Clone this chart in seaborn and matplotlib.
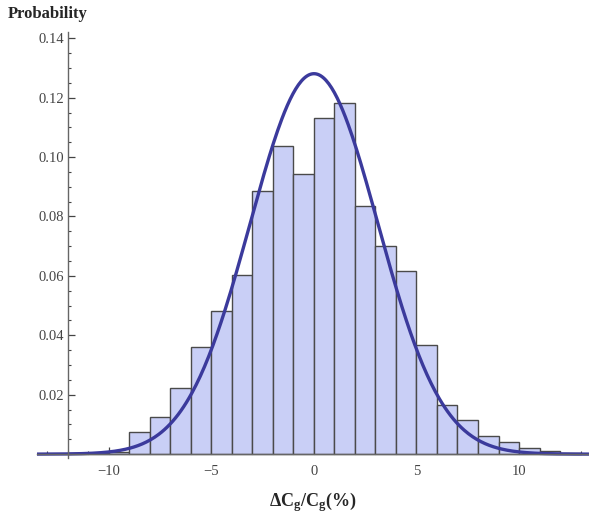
"""
Histogram of the relative capacitance deviation with a fitted normal curve,
drawn in a Mathematica-like style.
"""

import matplotlib
matplotlib.use("Agg")
import matplotlib.pyplot as plt
from matplotlib.ticker import MultipleLocator
import numpy as np
import pandas as pd
import seaborn as sns

# Histogram data: left bin edges (width 1) and probability per bin
bin_left = [-12, -11, -10, -9, -8, -7, -6, -5, -4, -3, -2, -1, 0, 1, 2, 3,
            4, 5, 6, 7, 8, 9, 10, 11, 12]
probability = [0.0003, 0.0005, 0.0008, 0.0073, 0.0126, 0.0221, 0.0361, 0.0481,
               0.0603, 0.0886, 0.1038, 0.0942, 0.1130, 0.1181, 0.0835, 0.0700,
               0.0615, 0.0369, 0.0167, 0.0114, 0.0062, 0.0040, 0.0020, 0.0010,
               0.0003]

# Fitted normal distribution
fit_mean = 0.0
fit_sd = 3.115

y_ticks = [0.02, 0.04, 0.06, 0.08, 0.10, 0.12, 0.14]
x_ticks = [-10, -5, 0, 5, 10]

sns.set_theme(style="white")
plt.rcParams["font.family"] = ["Liberation Serif", "DejaVu Serif"]
plt.rcParams["mathtext.fontset"] = "custom"
plt.rcParams["mathtext.rm"] = "Liberation Serif"
plt.rcParams["mathtext.bf"] = "Liberation Serif:bold"
plt.rcParams["mathtext.it"] = "Liberation Serif:italic"

df = pd.DataFrame({"center": np.array(bin_left) + 0.5, "prob": probability})
edges = list(bin_left) + [bin_left[-1] + 1]

fig = plt.figure(figsize=(5.89, 5.15), dpi=100)
ax = fig.add_axes([0.0632, 0.1107, 0.9363, 0.8277])

sns.histplot(data=df, x="center", weights="prob", bins=edges, stat="count",
             color="#c9cff6", alpha=1.0, edgecolor="#4a4a4a", linewidth=1.0,
             ax=ax)

xs = np.linspace(-13.5, 13.4, 400)
curve = pd.DataFrame({
    "x": xs,
    "pdf": np.exp(-0.5 * ((xs - fit_mean) / fit_sd) ** 2) / (fit_sd * np.sqrt(2 * np.pi)),
})
sns.lineplot(data=curve, x="x", y="pdf", color="#3b3a9c", linewidth=2.4, ax=ax,
             zorder=5)

ax.set_xlim(-13.5, 13.4)
ax.set_ylim(-0.0013, 0.1422)

# Mathematica-style axes crossing at (-12, 0)
ax.spines["left"].set_position(("data", -12))
ax.spines["bottom"].set_position(("data", 0))
ax.spines["top"].set_visible(False)
ax.spines["right"].set_visible(False)
for side in ["left", "bottom"]:
    ax.spines[side].set_color("#666666")
    ax.spines[side].set_linewidth(1.0)
    ax.spines[side].set_zorder(6)

ax.set_xticks(x_ticks)
ax.set_xticklabels([("\u2212" + str(abs(t))) if t < 0 else str(t) for t in x_ticks])
ax.set_yticks(y_ticks)
ax.set_yticklabels([f"{t:.2f}" for t in y_ticks])
ax.xaxis.set_minor_locator(MultipleLocator(1))
ax.yaxis.set_minor_locator(MultipleLocator(0.005))
ax.tick_params(axis="both", which="both", bottom=True, left=True,
               top=False, right=False)
ax.tick_params(axis="both", which="major", direction="in", length=5, width=0.9,
               color="#444444", labelcolor="#444444", labelsize=10.5)
ax.tick_params(axis="both", which="minor", direction="in", length=2.5, width=0.8,
               color="#444444")
ax.tick_params(axis="x", which="major", pad=8)
ax.tick_params(axis="y", which="major", pad=3)

ax.set_xlabel(r"$\mathbf{\Delta C_g/C_g(\%)}$", fontsize=13)
ax.set_ylabel("")
ax.xaxis.set_label_coords(0.5, -0.075)
fig.text(0.014, 0.972, "Probability", fontsize=12, fontweight="bold",
         ha="left", va="center")

fig.savefig("out.png", dpi=100)
